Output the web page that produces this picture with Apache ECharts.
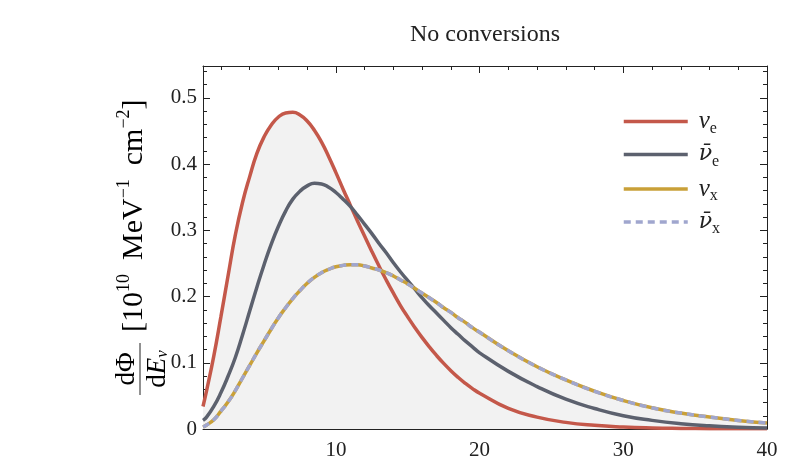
<!DOCTYPE html>
<html>
<head>
<meta charset="utf-8">
<script src="https://cdn.jsdelivr.net/npm/echarts@6/dist/echarts.min.js"></script>
<style>
  html, body { margin: 0; padding: 0; background: #fff; }
  #chart { width: 792px; height: 466px; }
</style>
</head>
<body>
<div id="chart"></div>
<script>
// neutrino energy E [MeV]
const energy = [0.75, 1, 1.5, 2, 2.5, 3, 3.5, 4, 4.5, 5, 5.5, 6, 6.5, 7, 7.5, 8, 8.5, 9, 9.5, 10,
  10.5, 11, 11.5, 12, 12.5, 13, 13.5, 14, 14.5, 15, 15.5, 16, 16.5, 17, 17.5, 18, 18.5, 19, 19.5, 20,
  22, 24, 26, 28, 30, 32, 34, 36, 38, 40];
// dPhi/dE, values
const nuE = [0.034, 0.058, 0.110, 0.170, 0.232, 0.293, 0.342, 0.381, 0.416, 0.441, 0.459, 0.471, 0.477, 0.478, 0.474, 0.465, 0.451, 0.433, 0.411, 0.387,
  0.362, 0.338, 0.314, 0.291, 0.268, 0.246, 0.225, 0.205, 0.186, 0.169, 0.153, 0.138, 0.124, 0.111, 0.099, 0.088, 0.078, 0.069, 0.061, 0.054,
  0.031, 0.018, 0.010, 0.0055, 0.003, 0.0016, 0.0009, 0.0005, 0.0003, 0.0002];
const nuEbar = [0.013, 0.018, 0.034, 0.055, 0.080, 0.108, 0.142, 0.178, 0.214, 0.248, 0.279, 0.306, 0.329, 0.347, 0.359, 0.367, 0.371, 0.370, 0.365, 0.357,
  0.347, 0.336, 0.323, 0.309, 0.295, 0.280, 0.266, 0.251, 0.237, 0.224, 0.211, 0.198, 0.186, 0.175, 0.164, 0.153, 0.143, 0.133, 0.124, 0.115,
  0.087, 0.064, 0.045, 0.031, 0.020, 0.013, 0.008, 0.0048, 0.0028, 0.0016];
const nuX = [0.003, 0.006, 0.014, 0.027, 0.041, 0.058, 0.077, 0.096, 0.115, 0.133, 0.151, 0.168, 0.183, 0.197, 0.209, 0.220, 0.229, 0.236, 0.241, 0.245,
  0.247, 0.248, 0.248, 0.246, 0.243, 0.240, 0.236, 0.231, 0.225, 0.219, 0.212, 0.205, 0.198, 0.191, 0.183, 0.176, 0.168, 0.161, 0.153, 0.146,
  0.118, 0.094, 0.074, 0.057, 0.043, 0.032, 0.024, 0.018, 0.013, 0.009];
const nuXbar = [0.003, 0.006, 0.014, 0.027, 0.041, 0.058, 0.077, 0.096, 0.115, 0.133, 0.151, 0.168, 0.183, 0.197, 0.209, 0.220, 0.229, 0.236, 0.241, 0.245,
  0.247, 0.248, 0.248, 0.246, 0.243, 0.240, 0.236, 0.231, 0.225, 0.219, 0.212, 0.205, 0.198, 0.191, 0.183, 0.176, 0.168, 0.161, 0.153, 0.146,
  0.118, 0.094, 0.074, 0.057, 0.043, 0.032, 0.024, 0.018, 0.013, 0.009];

const seriesNames = ['νe', 'ν̄e', 'νx', 'ν̄x'];
const legendLabels = ['{nu|ν}{sub|e}', '{nub|ν\u0304}{sub|e}', '{nu|ν}{sub|x}', '{nub|ν\u0304}{sub|x}'];

// ticks
const xMajor = [10, 20, 30, 40];
const xMinor = [2, 4, 6, 8, 12, 14, 16, 18, 22, 24, 26, 28, 32, 34, 36, 38];
const yMajor = [0, 0.1, 0.2, 0.3, 0.4, 0.5];

const xMin = 0.75, xMax = 40, yMin = 0, yMax = 0.548;
const serif = '"Liberation Serif", "DejaVu Serif", serif';
const ink = '#222';

function pairs(ys) {
  return energy.map((e, i) => [e, ys[i]]);
}
// grey fill under the upper envelope of all curves
const envelope = energy.map((e, i) => [e, Math.max(nuE[i], nuEbar[i], nuX[i])]);

function xAxisOf(pos, ticks, len, line, labels) {
  return {
    type: 'value', position: pos, min: xMin, max: xMax,
    axisLine: { show: line, onZero: false, lineStyle: { color: ink, width: 1 } },
    axisTick: { show: true, inside: true, length: len, customValues: ticks, lineStyle: { color: ink, width: 1 } },
    axisLabel: labels
      ? { show: true, customValues: ticks, margin: 11, color: ink, fontSize: 21, fontFamily: serif }
      : { show: false },
    splitLine: { show: false }
  };
}
function yAxisOf(pos, labels) {
  return {
    type: 'value', position: pos, min: yMin, max: yMax, interval: 0.1,
    axisLine: { show: true, onZero: false, lineStyle: { color: ink, width: 1 } },
    axisTick: { show: true, inside: true, length: 7, lineStyle: { color: ink, width: 1 } },
    minorTick: { show: true, splitNumber: 5, length: 4, lineStyle: { color: ink, width: 1 } },
    axisLabel: labels
      ? { show: true, customValues: yMajor, margin: 6, color: ink, fontSize: 21, fontFamily: serif }
      : { show: false },
    splitLine: { show: false },
    minorSplitLine: { show: false }
  };
}

const myChart = echarts.init(document.getElementById('chart'));

const richLegend = {
  nu: { fontFamily: serif, fontStyle: 'italic', fontSize: 25, color: ink, lineHeight: 30, verticalAlign: 'middle' },
  nub: { fontFamily: '"DejaVu Serif", serif', fontStyle: 'italic', fontSize: 22, color: ink, lineHeight: 30, verticalAlign: 'middle' },
  sub: { fontFamily: serif, fontSize: 16, color: ink, lineHeight: 15, verticalAlign: 'bottom' }
};
const richLabel = {
  n: { fontFamily: serif, fontSize: 30, color: ink, lineHeight: 34, verticalAlign: 'bottom' },
  g: { fontFamily: serif, fontSize: 30, color: ink, lineHeight: 34, verticalAlign: 'bottom', padding: [0, 0, 0, 14] },
  sup: { fontFamily: serif, fontSize: 18, color: ink, lineHeight: 17, verticalAlign: 'top' },
  it: { fontFamily: serif, fontSize: 27, fontStyle: 'italic', color: ink, lineHeight: 30, verticalAlign: 'bottom' },
  d: { fontFamily: serif, fontSize: 27, color: ink, lineHeight: 30, verticalAlign: 'bottom' },
  sub: { fontFamily: serif, fontSize: 17, fontStyle: 'italic', color: ink, lineHeight: 15, verticalAlign: 'bottom' }
};

const option = {
  animation: false,
  backgroundColor: '#fff',
  grid: { left: 203, right: 25, top: 66, bottom: 37, containLabel: false },
  xAxis: [
    xAxisOf('bottom', xMajor, 7, true, true),
    xAxisOf('bottom', xMinor, 4, false, false),
    xAxisOf('top', xMajor, 7, true, false),
    xAxisOf('top', xMinor, 4, false, false)
  ],
  yAxis: [
    yAxisOf('left', true),
    yAxisOf('right', false)
  ],
  legend: {
    data: seriesNames,
    orient: 'vertical',
    left: 617,
    top: 104,
    itemWidth: 64,
    itemHeight: 14,
    itemGap: 7,
    itemStyle: { opacity: 0 },
    lineStyle: { width: 3.5 },
    formatter: function (name) {
      return legendLabels[seriesNames.indexOf(name)];
    },
    textStyle: { rich: richLegend, padding: [0, 0, 0, 6] },
    selectedMode: false
  },
  graphic: [
    {
      type: 'text', x: 485, y: 35,
      style: { text: 'No conversions', fontSize: 24, fontFamily: serif, fill: ink, align: 'center', verticalAlign: 'middle' }
    },
    {
      type: 'group', x: 140, y: 396, rotation: Math.PI / 2,
      children: [
        { type: 'text', x: 27, y: 0, style: { text: '{d|dΦ}', rich: richLabel, align: 'center', verticalAlign: 'bottom' } },
        { type: 'line', shape: { x1: 1, y1: 0, x2: 53, y2: 0 }, style: { stroke: ink, lineWidth: 1 } },
        { type: 'text', x: 27, y: 1, style: { text: '{d|d}{it|E}{sub|ν}', rich: richLabel, align: 'center', verticalAlign: 'top' } },
        { type: 'text', x: 64, y: -8, style: { text: '{n|[10}{sup|10}{g|MeV}{sup|−1}{g|cm}{sup|−2}{n|]}', rich: richLabel, align: 'left', verticalAlign: 'middle' } }
      ]
    }
  ],
  series: [
    {
      name: 'fill', type: 'line', data: envelope, smooth: true, symbol: 'none', silent: true,
      lineStyle: { width: 0 }, areaStyle: { color: '#f2f2f2', opacity: 1 }, z: 1
    },
    {
      name: seriesNames[0], type: 'line', data: pairs(nuE), smooth: true, symbol: 'none',
      lineStyle: { color: '#c4584a', width: 3.5 }, itemStyle: { color: '#c4584a' }, z: 3
    },
    {
      name: seriesNames[1], type: 'line', data: pairs(nuEbar), smooth: true, symbol: 'none',
      lineStyle: { color: '#5c616e', width: 3.5 }, itemStyle: { color: '#5c616e' }, z: 3
    },
    {
      name: seriesNames[2], type: 'line', data: pairs(nuX), smooth: true, symbol: 'none',
      lineStyle: { color: '#c9a038', width: 3.5 }, itemStyle: { color: '#c9a038' }, z: 3
    },
    {
      name: seriesNames[3], type: 'line', data: pairs(nuXbar), smooth: true, symbol: 'none',
      lineStyle: { color: '#a0a6ce', width: 3.5, type: [7, 5] }, itemStyle: { color: '#a0a6ce' }, z: 4
    }
  ]
};
myChart.setOption(option);
</script>
</body>
</html>
